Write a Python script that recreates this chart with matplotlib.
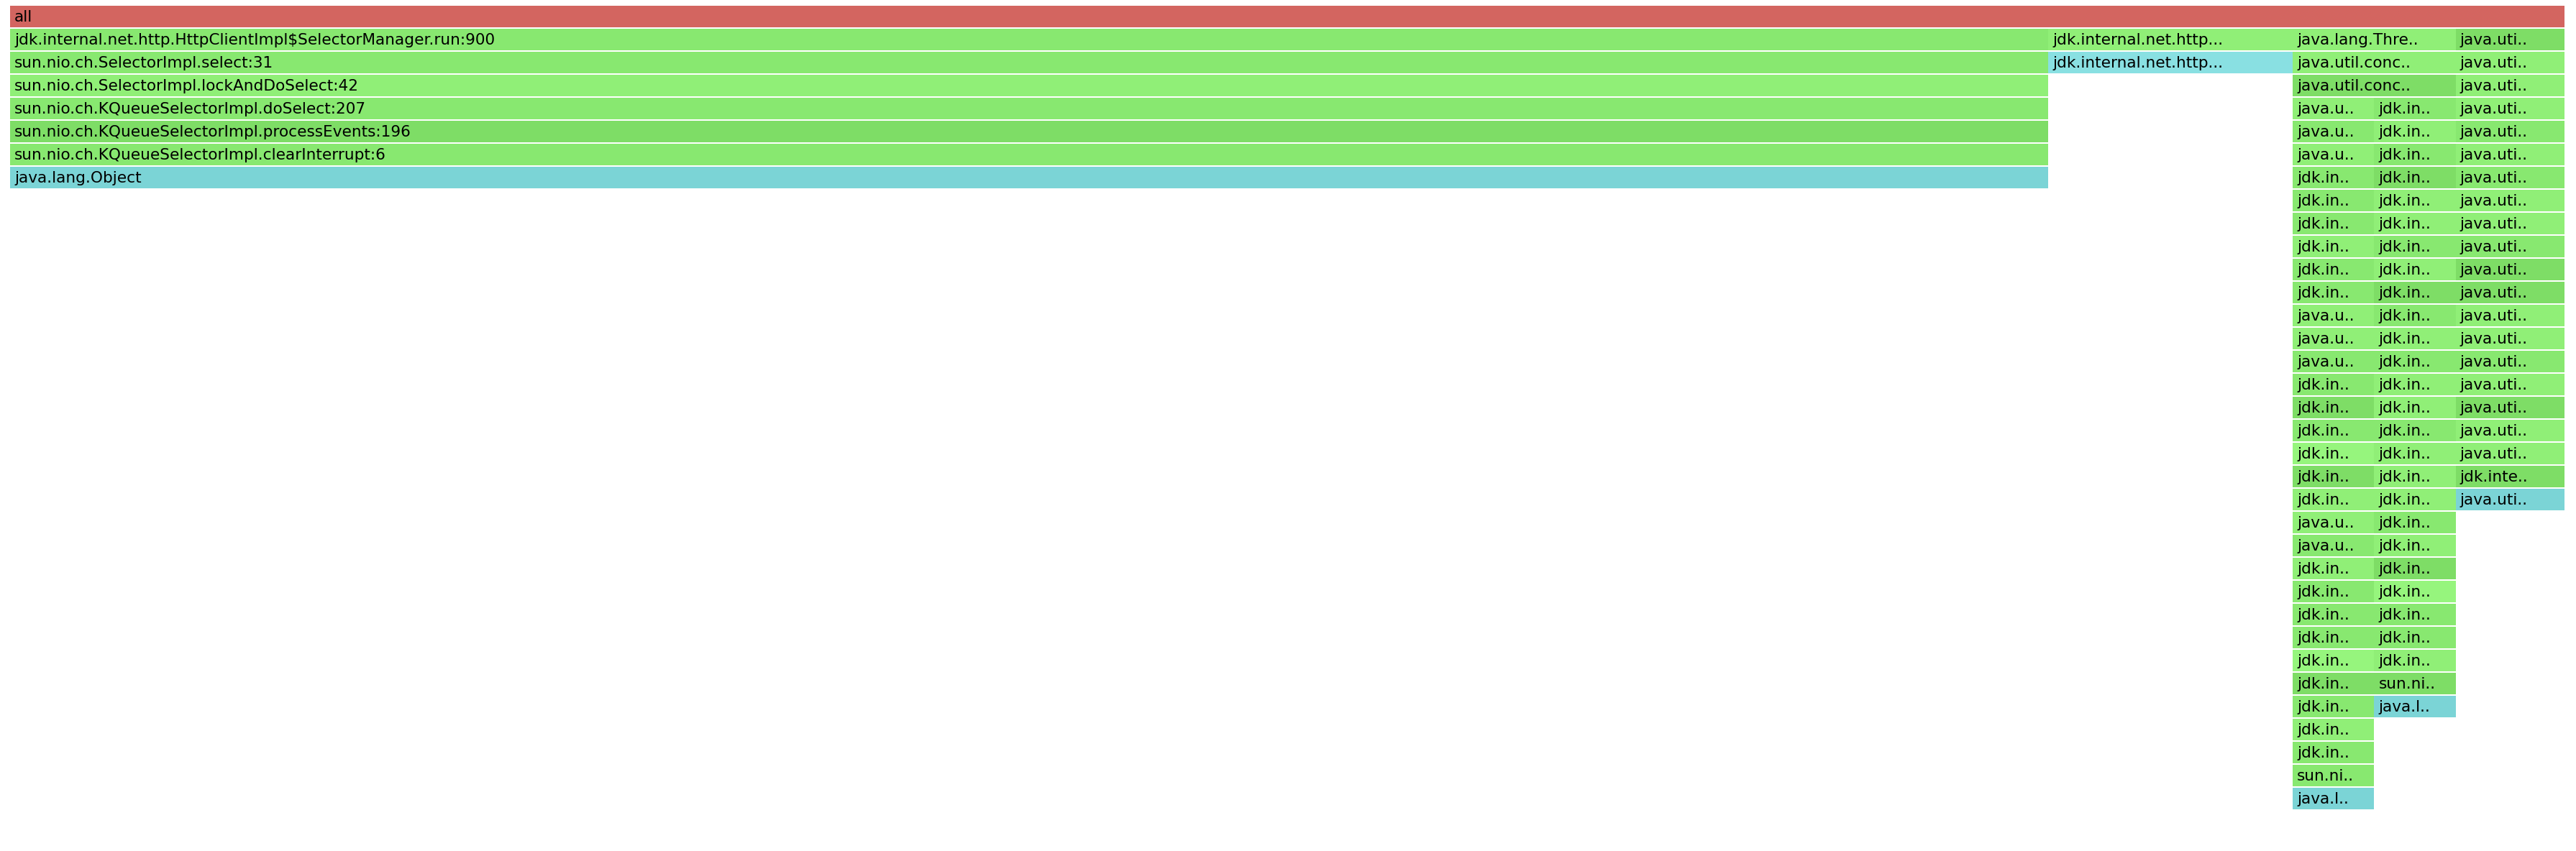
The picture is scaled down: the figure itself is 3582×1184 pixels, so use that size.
import matplotlib
matplotlib.use("Agg")
import matplotlib.pyplot as plt

# flame graph, widths in samples, depth 0 = "all"
TOTAL = 94

# colour per shade code
shade_colors = {
    "R": "#d36560",   # root
    "LL": "#96f57d",
    "L": "#90ef77",
    "M": "#88e870",
    "D": "#7edd66",
    "C": "#7bd4d6",   # java.lang.Object cyan
    "C2": "#89e0e2",
}

# main selector stack (depth 1..7)
main_start, main_width = 0, 75
main_names = [
    "jdk.internal.net.http.HttpClientImpl$SelectorManager.run:900",
    "sun.nio.ch.SelectorImpl.select:31",
    "sun.nio.ch.SelectorImpl.lockAndDoSelect:42",
    "sun.nio.ch.KQueueSelectorImpl.doSelect:207",
    "sun.nio.ch.KQueueSelectorImpl.processEvents:196",
    "sun.nio.ch.KQueueSelectorImpl.clearInterrupt:6",
    "java.lang.Object",
]
main_shades = ["M", "M", "L", "M", "D", "M", "C"]

# http stack (depth 1..2)
http_start, http_width = 75, 9
http_names = ["jdk.internal.net.http...", "jdk.internal.net.http..."]
http_shades = ["L", "C2"]

# thread stack (depth 1..3)
thread_start, thread_width = 84, 6
thread_names = ["java.lang.Thre..", "java.util.conc..", "java.util.conc.."]
thread_shades = ["L", "L", "D"]

# column 1 (depth 4..34)
col1_start, col1_width, col1_depth = 84, 3, 4
col1_names = (["java.u.."] * 3 + ["jdk.in.."] * 6 + ["java.u.."] * 3 +
              ["jdk.in.."] * 6 + ["java.u.."] * 2 + ["jdk.in.."] * 9 +
              ["sun.ni..", "java.l.."])
col1_shades = ["L", "M", "L", "M", "M", "M", "L", "M", "M", "L", "L", "M",
               "M", "D", "M", "LL", "D", "L", "L", "M", "L", "M", "M", "M",
               "LL", "D", "M", "L", "M", "M", "C"]

# column 2 (depth 4..30)
col2_start, col2_width, col2_depth = 87, 3, 4
col2_names = ["jdk.in.."] * 25 + ["sun.ni..", "java.l.."]
col2_shades = ["M", "L", "M", "D", "L", "L", "M", "L", "D", "M", "L", "M",
               "L", "L", "M", "L", "L", "L", "M", "L", "D", "LL", "M", "M",
               "L", "D", "C"]

# column 3 (depth 1..21)
col3_start, col3_width, col3_depth = 90, 4, 1
col3_names = ["java.uti.."] * 19 + ["jdk.inte..", "java.uti.."]
col3_shades = ["D", "L", "L", "L", "M", "L", "M", "L", "L", "M", "D", "D",
               "L", "L", "M", "L", "D", "L", "L", "D", "C"]

W, H = 3582, 1184
PITCH = 32
fig = plt.figure(figsize=(W / 100, H / 100), dpi=100)
fig.patch.set_facecolor("white")
ax = fig.add_axes([14 / W, 0, 3552 / W, 1])
ax.set_xlim(0, TOTAL)
ax.set_ylim(H / PITCH - 0.25, -0.25)
ax.axis("off")

bar_h = 29.5 / PITCH


def draw(start, width, depth0, names, shades):
    for i, (name, sh) in enumerate(zip(names, shades)):
        d = depth0 + i
        ax.barh(d + bar_h / 2, width, left=start, height=bar_h,
                color=shade_colors[sh], edgecolor="none", linewidth=0)
        ax.annotate(name, (start, d + bar_h / 2), xytext=(6, -1),
                    textcoords="offset pixels", ha="left", va="center",
                    fontsize=15.6, family="DejaVu Sans", color="black")


draw(0, TOTAL, 0, ["all"], ["R"])
draw(main_start, main_width, 1, main_names, main_shades)
draw(http_start, http_width, 1, http_names, http_shades)
draw(thread_start, thread_width, 1, thread_names, thread_shades)
draw(col1_start, col1_width, col1_depth, col1_names, col1_shades)
draw(col2_start, col2_width, col2_depth, col2_names, col2_shades)
draw(col3_start, col3_width, col3_depth, col3_names, col3_shades)

fig.savefig("out.png", dpi=100, facecolor="white")
